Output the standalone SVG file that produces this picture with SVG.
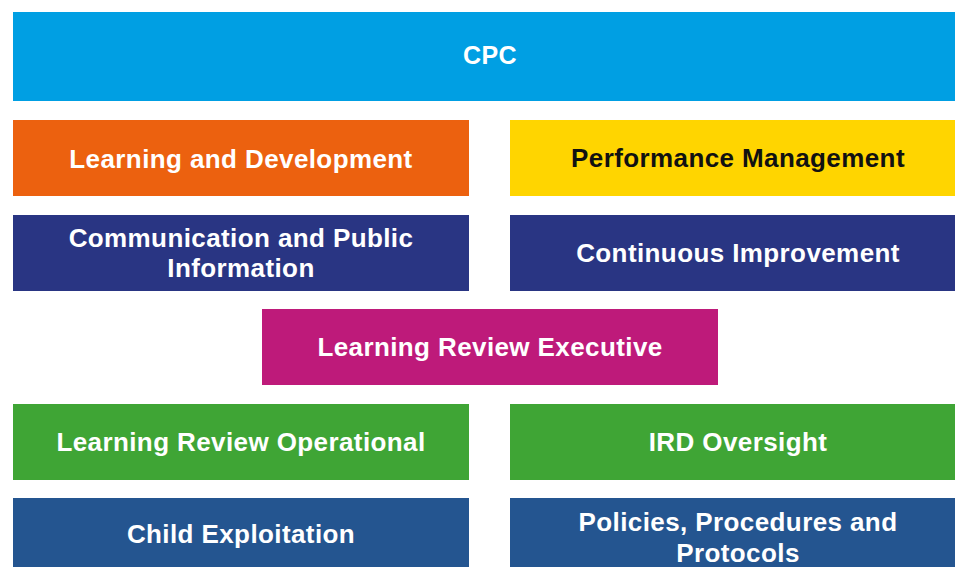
<svg xmlns="http://www.w3.org/2000/svg" width="955" height="567" viewBox="0 0 955 567">
<style>
text{font-family:"Liberation Sans",Arial,sans-serif;font-weight:bold;font-size:26px;letter-spacing:0.4px;text-anchor:middle;fill:#fff}
.dark{fill:#111}
.title{font-size:25px}
</style>
<rect width="955" height="567" fill="#fff"/>
<g id="cpc"><rect x="13" y="12" width="953" height="89" fill="#009FE3"/><text class="title" x="490" y="63.5">CPC</text></g>
<g id="learning-development"><rect x="13" y="120" width="456" height="76" fill="#EC610F"/><text x="241" y="167.5">Learning and Development</text></g>
<g id="performance-management"><rect x="510" y="120" width="456" height="76" fill="#FFD500"/><text class="dark" x="738" y="167">Performance Management</text></g>
<g id="communication"><rect x="13" y="215" width="456" height="76" fill="#293583"/><text x="241" y="247">Communication and Public</text><text x="241" y="276.5">Information</text></g>
<g id="continuous-improvement"><rect x="510" y="215" width="456" height="76" fill="#293583"/><text x="738" y="262">Continuous Improvement</text></g>
<g id="learning-review-executive"><rect x="262" y="309" width="456" height="76" fill="#BE1A7A"/><text x="490" y="356">Learning Review Executive</text></g>
<g id="learning-review-operational"><rect x="13" y="404" width="456" height="76" fill="#3FA535"/><text x="241" y="451">Learning Review Operational</text></g>
<g id="ird-oversight"><rect x="510" y="404" width="456" height="76" fill="#3FA535"/><text x="738" y="451">IRD Oversight</text></g>
<g id="child-exploitation"><rect x="13" y="498" width="456" height="76" fill="#245590"/><text x="241" y="543">Child Exploitation</text></g>
<g id="policies"><rect x="510" y="498" width="456" height="76" fill="#245590"/><text x="738" y="530.5">Policies, Procedures and</text><text x="738" y="561.5">Protocols</text></g>
<g id="connectors"></g>
</svg>
